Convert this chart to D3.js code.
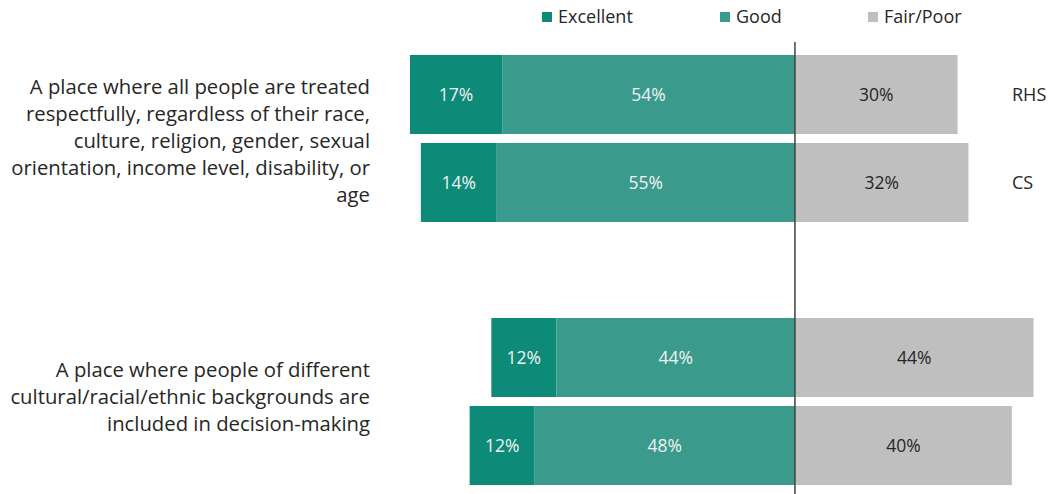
<!DOCTYPE html>
<html><head><meta charset="utf-8">
<script src="https://cdn.jsdelivr.net/npm/d3@7"></script>
<style>body{margin:0;background:#fff}svg{display:block}text{font-family:"Open Sans",sans-serif}</style>
</head><body>
<svg id="c" width="1056" height="494"></svg>
<script>
const questions = [
  ["A place where all people are treated","respectfully, regardless of their race,","culture, religion, gender, sexual","orientation, income level, disability, or","age"],
  ["A place where people of different","cultural/racial/ethnic backgrounds are","included in decision-making"]
];
const groups = ["RHS","CS"];
const seriesNames = ["Excellent","Good","Fair/Poor"];
const excellent = [17,14,12,12];
const good = [54,55,44,48];
const fairPoor = [30,32,44,40];
const rowGroup = ["RHS","CS","",""];
const colors = ["#0d8a78","#3a9b8d","#bfbfbf"];

const svg = d3.select("#c");
const x = d3.scaleLinear().domain([-71,44]).range([410,1033.5]);
const x0 = x(0);
const rowTops = [55,143,318,406];
const barH = 79;

rowTops.forEach((top,i)=>{
  const g = svg.append("g");
  const segs = [
    {a:-(excellent[i]+good[i]), b:-good[i], v:excellent[i], c:colors[0], t:"#f2f2f2"},
    {a:-good[i], b:0, v:good[i], c:colors[1], t:"#f2f2f2"},
    {a:0, b:fairPoor[i], v:fairPoor[i], c:colors[2], t:"#262626"}
  ];
  segs.forEach(s=>{
    g.append("rect").attr("x",x(s.a)).attr("y",top).attr("width",x(s.b)-x(s.a)).attr("height",barH).attr("fill",s.c);
    g.append("text").attr("x",(x(s.a)+x(s.b))/2).attr("y",top+barH/2).attr("dy","0.35em")
      .attr("text-anchor","middle").attr("font-size",17.5).attr("fill",s.t).text(s.v+"%");
  });
  if (rowGroup[i]) svg.append("text").attr("x",1012).attr("y",top+barH/2).attr("dy","0.35em")
    .attr("font-size",18).attr("fill","#262626").text(rowGroup[i]);
});

svg.append("line").attr("x1",x0).attr("x2",x0).attr("y1",42).attr("y2",494)
  .attr("stroke","#404040").attr("stroke-width",1.5);

const qCenters = [141, 397];
questions.forEach((lines,qi)=>{
  const lh = 27;
  const start = qCenters[qi] - (lines.length-1)*lh/2;
  const t = svg.append("text").attr("text-anchor","end").attr("font-size",20.3).attr("fill","#262626");
  lines.forEach((l,li)=>{
    t.append("tspan").attr("x",370).attr("y",start+li*lh).attr("dy","0.35em").text(l);
  });
});

const legX = [542,720,868];
seriesNames.forEach((n,i)=>{
  svg.append("rect").attr("x",legX[i]).attr("y",12).attr("width",10).attr("height",10).attr("fill",colors[i]);
  svg.append("text").attr("x",legX[i]+16).attr("y",17).attr("dy","0.35em").attr("font-size",18).attr("fill","#262626").text(n);
});
</script>
</body></html>
